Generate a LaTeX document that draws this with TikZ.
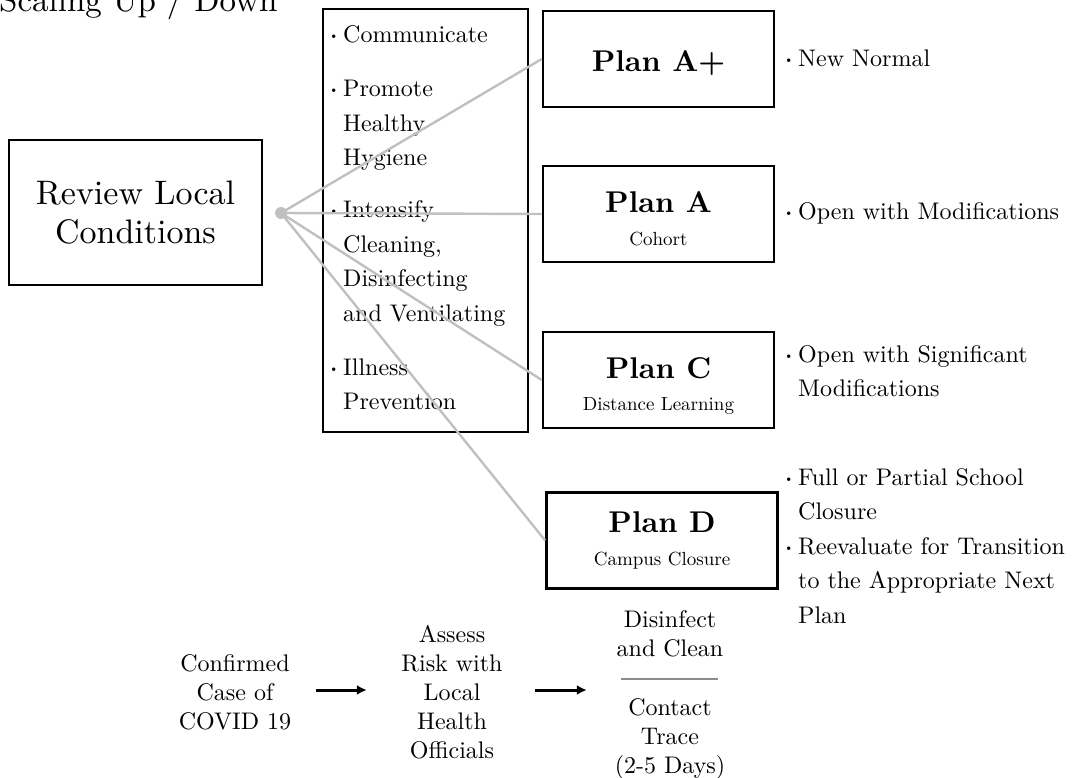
\documentclass[tikz,border=0pt]{standalone}
\usepackage{fontspec}
\setmainfont{lmroman10}[Extension=.otf,UprightFont=*-regular,BoldFont=*-bold,
  ItalicFont=*-italic,BoldItalicFont=*-bolditalic]
\usetikzlibrary{positioning,arrows.meta}

\definecolor{fangray}{RGB}{192,192,192}
\definecolor{rulegray}{RGB}{140,140,140}
\newcommand{\bul}{\makebox[14pt][l]{\raisebox{3pt}{\fontsize{12}{12}\selectfont\textbullet}}}
\newcommand{\ind}{\hspace*{14pt}}

\tikzset{
  box/.style={draw,line width=2.6pt,inner sep=0pt},
  planbox/.style={box,minimum width=231pt,minimum height=96pt},
  ttl/.style={anchor=base,inner sep=0pt,font={\fontsize{30}{32}\selectfont\bfseries}},
  sub/.style={anchor=base,inner sep=0pt,font=\fontsize{19}{22}\selectfont},
  txt/.style={anchor=base west,inner sep=0pt,align=left,font=\fontsize{24}{34.5}\selectfont},
  ctxt/.style={anchor=base,inner sep=0pt,align=center,font=\fontsize{24}{29}\selectfont},
  fan/.style={draw=fangray,line width=2.4pt},
  flow/.style={line width=3pt,-{Latex[length=10pt,width=10pt]}},
}

\begin{document}
\begin{tikzpicture}[x=1pt,y=-1pt]
\useasboundingbox (0,0) rectangle (1092,778);

\node[anchor=base west,inner sep=0pt,font=\fontsize{33}{33}\selectfont] (title) at (-1,12) {Scaling Up / Down};

\node[box,minimum width=253pt,minimum height=145pt,align=center,
      font=\fontsize{34}{39}\selectfont] (review) at (135.5,212.5) {Review Local\\Conditions};

% strategies
\node[box,line width=2.4pt,minimum width=205pt,minimum height=423pt] (strat) at (425.5,220.5) {};
\node[txt,text width=195pt] (s1) at (329,43)  {\bul Communicate};
\node[txt,text width=195pt] (s2) at (329,97)  {\bul Promote\\\ind Healthy\\\ind Hygiene};
\node[txt,text width=195pt] (s3) at (329,218) {\bul Intensify\\\ind Cleaning,\\\ind Disinfecting\\\ind and Ventilating};
\node[txt,text width=195pt] (s4) at (329,375) {\bul Illness\\\ind Prevention};

% plans
\node[planbox] (pap) at (658.5,59)  {};
\node[planbox] (pa)  at (658.5,214) {};
\node[planbox] (pc)  at (658.5,380) {};
\node[planbox] (pd)  at (662,540.5) {};
\node[ttl] (pap-t) at (658.5,72)  {Plan A+};
\node[ttl] (pa-t)  at (658.5,213) {Plan A};
\node[sub] (pa-s)  at (658.5,245) {Cohort};
\node[ttl] (pc-t)  at (658.5,378) {Plan C};
\node[sub] (pc-s)  at (658.5,410) {Distance Learning};
\node[ttl] (pd-t)  at (662,532)   {Plan D};
\node[sub] (pd-s)  at (662,565)   {Campus Closure};

\node[txt,text width=320pt] (papn) at (784,67)  {\bul New Normal};
\node[txt,text width=320pt] (pan)  at (784,220) {\bul Open with Modifications};
\node[txt,text width=320pt] (pcn)  at (784,362) {\bul Open with Significant\\\ind Modifications};
\node[txt,text width=320pt] (pdn)  at (784,485) {\bul Full or Partial School\\\ind Closure\\\bul Reevaluate for Transition\\\ind to the Appropriate Next\\\ind Plan};

% fan out
\node[circle,fill=fangray,inner sep=0pt,minimum size=12pt] (hub) at (281,213) {};
\foreach \p in {pap,pa,pc,pd}
  \draw[fan] (hub.center) -- (\p.west);

% case flow
\node[ctxt,text width=120pt] (case)   at (235,671) {Confirmed\\Case of\\COVID 19};
\node[ctxt,text width=110pt] (assess) at (452,642) {Assess\\Risk with\\Local\\Health\\Officials};
\node[ctxt,text width=116pt] (dis)    at (670,627) {Disinfect\\and Clean};
\node[ctxt,text width=116pt] (trace)  at (670,715) {Contact\\Trace\\(2-5 Days)};
\coordinate (lane) at (0,690);
\draw[flow,shorten <=21pt,shorten >=30pt] (case.east |- lane) -- (assess.west |- lane);
\draw[flow,shorten <=28pt,shorten >=25pt] (assess.east |- lane) -- (dis.west |- lane);
\draw[rulegray,line width=1.5pt] (621,679) -- (718,679);
\end{tikzpicture}
\end{document}
